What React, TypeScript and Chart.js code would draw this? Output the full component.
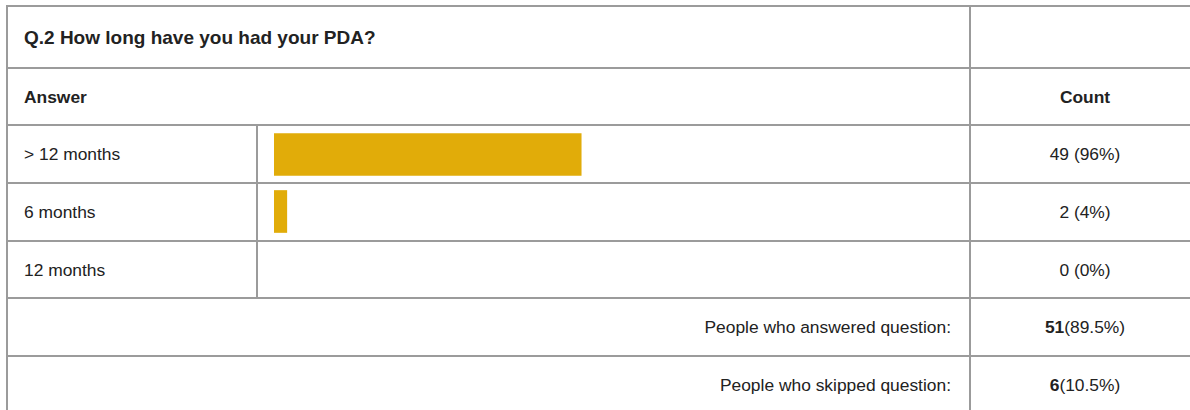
import React, { useEffect, useRef } from "react";
import { Chart, registerables } from "chart.js";

Chart.register(...registerables);

const questionTitle = "Q.2 How long have you had your PDA?";
const answerHeader = "Answer";
const countHeader = "Count";
const answers = ["> 12 months", "6 months", "12 months"];
const counts = [49, 2, 0];
const percents = [96, 4, 0];
const answeredLabel = "People who answered question:";
const answeredCount = 51;
const answeredPct = "89.5%";
const skippedLabel = "People who skipped question:";
const skippedCount = 6;
const skippedPct = "10.5%";

const LINE = "#9b9b9b";
const BAR = "#e1ac09";
const TEXT = "#222222";
const FONT = '"Liberation Sans", Arial, Helvetica, sans-serif';

const hLines = [5, 67, 124, 182, 240, 297, 355];

function BarChart() {
  const ref = useRef<HTMLCanvasElement | null>(null);
  useEffect(() => {
    if (!ref.current) return;
    const chart = new Chart(ref.current, {
      type: "bar",
      data: {
        labels: answers,
        datasets: [
          {
            data: percents,
            backgroundColor: (ctx: any) => (ctx.raw > 0 ? BAR : "rgba(0,0,0,0)"),
            borderWidth: 0,
            barThickness: 42,
          },
        ],
      },
      options: {
        indexAxis: "y",
        animation: false,
        responsive: false,
        maintainAspectRatio: false,
        layout: { padding: { left: 16, right: 375, top: 0, bottom: 0 } },
        plugins: { legend: { display: false }, tooltip: { enabled: false } },
        scales: {
          x: { display: false, min: 0, max: 100 },
          y: { display: false },
        },
      },
    });
    return () => chart.destroy();
  }, []);
  return (
    <canvas
      ref={ref}
      width={711}
      height={171}
      style={{ position: "absolute", left: 258, top: 126, width: 711, height: 171 }}
    />
  );
}

function Cell(props: {
  left: number;
  top: number;
  width: number;
  height: number;
  align: "left" | "center" | "right";
  bold?: boolean;
  size?: number;
  pad?: number;
  children: React.ReactNode;
}) {
  const { left, top, width, height, align, bold, size = 17.4, pad = 0, children } = props;
  return (
    <div
      style={{
        position: "absolute",
        left,
        top,
        width,
        height,
        display: "flex",
        alignItems: "center",
        justifyContent: align === "left" ? "flex-start" : align === "right" ? "flex-end" : "center",
        paddingLeft: align === "left" ? pad : 0,
        paddingRight: align === "right" ? pad : 0,
        paddingTop: 1,
        boxSizing: "border-box",
        fontWeight: bold ? "bold" : "normal",
        fontSize: size,
        fontFamily: FONT,
        color: TEXT,
        whiteSpace: "nowrap",
      }}
    >
      {children}
    </div>
  );
}

export default function App() {
  const rowTop = (i: number) => hLines[i] + 2;
  const rowH = (i: number) => (hLines[i + 1] ?? 412) - hLines[i] - 2;
  return (
    <div
      style={{
        position: "fixed",
        left: 0,
        top: 0,
        width: 1190,
        height: 410,
        overflow: "hidden",
        background: "#ffffff",
      }}
    >
      {hLines.map((y, i) => (
        <div
          key={"h" + i}
          style={{ position: "absolute", left: 6, top: y, width: 1200, height: 2, background: LINE }}
        />
      ))}
      <div style={{ position: "absolute", left: 6, top: 5, width: 2, height: 410, background: LINE }} />
      <div style={{ position: "absolute", left: 969, top: 5, width: 2, height: 410, background: LINE }} />
      <div style={{ position: "absolute", left: 256, top: 124, width: 2, height: 175, background: LINE }} />

      <BarChart />

      <Cell left={8} top={rowTop(0)} width={961} height={rowH(0)} align="left" pad={16} bold size={19}>
        {questionTitle}
      </Cell>
      <Cell left={8} top={rowTop(1)} width={961} height={rowH(1)} align="left" pad={16} bold>
        {answerHeader}
      </Cell>
      <Cell left={971} top={rowTop(1)} width={228} height={rowH(1)} align="center" bold>
        {countHeader}
      </Cell>
      {answers.map((a, i) => (
        <React.Fragment key={a}>
          <Cell left={8} top={rowTop(2 + i)} width={248} height={rowH(2 + i)} align="left" pad={16}>
            {a}
          </Cell>
          <Cell left={971} top={rowTop(2 + i)} width={228} height={rowH(2 + i)} align="center">
            {counts[i] + " (" + percents[i] + "%)"}
          </Cell>
        </React.Fragment>
      ))}
      <Cell left={8} top={rowTop(5)} width={961} height={rowH(5)} align="right" pad={18}>
        {answeredLabel}
      </Cell>
      <Cell left={971} top={rowTop(5)} width={228} height={rowH(5)} align="center">
        <span>
          <b>{answeredCount}</b>
          {"(" + answeredPct + ")"}
        </span>
      </Cell>
      <Cell left={8} top={rowTop(6)} width={961} height={rowH(6)} align="right" pad={18}>
        {skippedLabel}
      </Cell>
      <Cell left={971} top={rowTop(6)} width={228} height={rowH(6)} align="center">
        <span>
          <b>{skippedCount}</b>
          {"(" + skippedPct + ")"}
        </span>
      </Cell>
    </div>
  );
}
